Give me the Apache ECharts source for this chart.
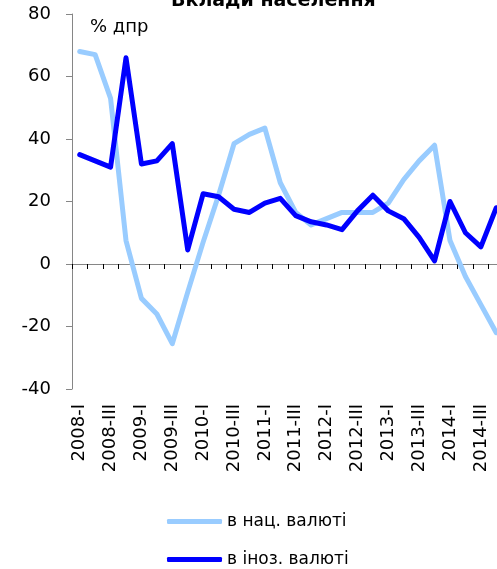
<!DOCTYPE html>
<html><head><meta charset="utf-8">
<script src="https://cdn.jsdelivr.net/npm/echarts@6/dist/echarts.min.js"></script>
<style>html,body{margin:0;padding:0;background:#fff}#c{width:497px;height:569px}</style>
</head><body><div id="c"></div>
<script>
const categories = ['2008-I','2008-II','2008-III','2008-IV','2009-I','2009-II','2009-III','2009-IV',
 '2010-I','2010-II','2010-III','2010-IV','2011-I','2011-II','2011-III','2011-IV',
 '2012-I','2012-II','2012-III','2012-IV','2013-I','2013-II','2013-III','2013-IV',
 '2014-I','2014-II','2014-III','2014-IV'];
const natCurrency = [68, 67, 53, 7.5, -11, -16, -25.5, -9, 7, 22, 38.5, 41.5, 43.5, 26, 16.5, 12.5, 14.5, 16.5, 16.5, 16.5, 19.5, 27, 33, 38, 7.5, -4, -13, -22];
const forCurrency = [35, 33, 31, 66, 32, 33, 38.5, 4.5, 22.5, 21.5, 17.5, 16.5, 19.5, 21, 15.5, 13.5, 12.5, 11, 17, 22, 17, 14.5, 8.5, 1, 20, 10, 5.5, 18];
const seriesNames = ['в нац. валюті', 'в іноз. валюті'];
const titleText = 'Вклади населення';
const unitText = '% дпр';

const FONT = 'DejaVu Sans';
const axisColor = '#868686';
const legendBase = {
  orient: 'horizontal', left: 162, itemWidth: 55, itemHeight: 5, itemGap: 0,
  icon: 'roundRect',
  textStyle: {fontFamily: FONT, fontSize: 17, color: '#000'}
};
const chart = echarts.init(document.getElementById('c'), null, {renderer:'canvas'});
chart.setOption({
  animation: false,
  textStyle: {fontFamily: FONT},
  title: {text: titleText, left: 166, top: -13, textStyle: {fontFamily: FONT, fontSize: 19, fontWeight: 'bold', color: '#000'}},
  grid: {left: 72, width: 432, top: 14, bottom: 180, containLabel: false, outerBoundsMode: 'none'},
  legend: [
    Object.assign({}, legendBase, {top: 508, data: [seriesNames[0]]}),
    Object.assign({}, legendBase, {top: 546, data: [seriesNames[1]]})
  ],
  graphic: [{type: 'text', left: 90, top: 18, style: {text: unitText, font: '18px "DejaVu Sans"', fill: '#000'}}],
  xAxis: [
    {type: 'category', data: categories, boundaryGap: true, position: 'bottom',
     axisLine: {onZero: true, lineStyle: {color: axisColor, width: 1}},
     axisTick: {show: true, length: 5, inside: false, interval: 0, lineStyle: {color: '#000'}},
     axisLabel: {show: false}, splitLine: {show: false}},
    {type: 'category', data: categories, boundaryGap: true, position: 'bottom', gridIndex: 0,
     axisLine: {show: false}, axisTick: {show: false},
     axisLabel: {show: true, rotate: 90, interval: 1, margin: 15, fontSize: 18, fontFamily: FONT, color: '#000'},
     splitLine: {show: false}}
  ],
  yAxis: {
    type: 'value', min: -40, max: 80, interval: 20,
    axisLine: {show: true, lineStyle: {color: axisColor, width: 1}},
    axisTick: {show: true, length: 6, lineStyle: {color: axisColor}},
    axisLabel: {fontSize: 18, fontFamily: FONT, color: '#000', margin: 21},
    splitLine: {show: false}
  },
  series: [
    {name: seriesNames[0], type: 'line', data: natCurrency, xAxisIndex: 0, symbol: 'none',
     lineStyle: {color: '#99CCFF', width: 5, join: 'round', cap: 'round'}, itemStyle: {color: '#99CCFF'}},
    {name: seriesNames[1], type: 'line', data: forCurrency, xAxisIndex: 0, symbol: 'none',
     lineStyle: {color: '#0000FF', width: 5, join: 'round', cap: 'round'}, itemStyle: {color: '#0000FF'}}
  ]
});
</script></body></html>
